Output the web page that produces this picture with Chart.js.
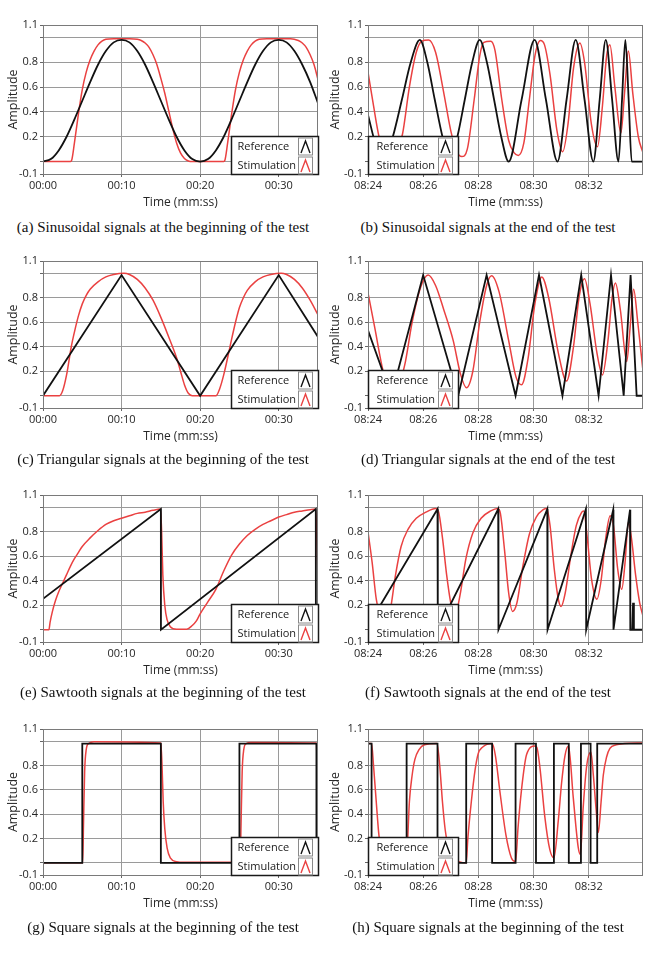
<!DOCTYPE html>
<html>
<head>
<meta charset="utf-8">
<script src="https://cdn.jsdelivr.net/npm/chart.js@4.4.0/dist/chart.umd.min.js"></script>
<style>
body { margin: 0; background: #fff; width: 647px; height: 953px; position: relative; overflow: hidden; }
.panel { position: absolute; }
.cap { position: absolute; font-family: "Liberation Serif", "Times New Roman", serif; font-size: 15px; color: #111;
       white-space: nowrap; transform: translate(-50%, -50%); }
</style>
</head>
<body>
<script>
'use strict';

// ejes
const startTicks = [0, 10, 20, 30];
const startTickLabels = ['00:00', '00:10', '00:20', '00:30'];
const endTicks = [0, 2, 4, 6, 8];          // segundos desde 08:24
const endTickLabels = ['08:24', '08:26', '08:28', '08:30', '08:32'];
const yTicks = [-0.1, 0, 0.2, 0.4, 0.6, 0.8, 1.0, 1.1];
const yTickLabels = ['-0.1', '', '0.2', '0.4', '0.6', '0.8', '', '1.1'];

// (a) senoidal inicio  [t, amplitud]
const sinStartRef = [[0,0],[1,0.02],[2,0.09],[3,0.2],[4,0.34],[5,0.49],[6,0.64],[7,0.78],[8,0.89],[9,0.96],[10,0.98],
  [11,0.96],[12,0.89],[13,0.78],[14,0.64],[15,0.49],[16,0.34],[17,0.2],[18,0.09],[19,0.02],[20,0],
  [21,0.02],[22,0.09],[23,0.2],[24,0.34],[25,0.49],[26,0.64],[27,0.78],[28,0.89],[29,0.96],[30,0.98],
  [31,0.96],[32,0.89],[33,0.78],[34,0.64],[35,0.47]];
const sinStartStim = [[0,0],[3.5,0],[3.65,0.01],[4,0.15],[4.5,0.38],[5,0.58],[5.5,0.72],[6,0.82],[6.5,0.89],[7,0.94],
  [7.5,0.97],[8,0.985],[9,0.99],[11,0.99],[12,0.985],[12.5,0.975],[13,0.955],[13.5,0.92],[14,0.86],[14.5,0.78],
  [15,0.67],[15.5,0.55],[16,0.41],[16.5,0.27],[17,0.15],[17.5,0.07],[18,0.025],[18.5,0.005],[19,0],[23,0],
  [23.15,0.01],[23.5,0.15],[24,0.38],[24.5,0.58],[25,0.72],[25.5,0.82],[26,0.89],[26.5,0.94],[27,0.97],
  [27.5,0.985],[28.5,0.99],[31.5,0.99],[32.5,0.975],[33,0.955],[33.5,0.92],[34,0.86],[34.5,0.78],[35,0.66]];

// (b) senoidal final
const sinEndRef = [[0,0.375],[0.3,0.12],[0.58,0],[0.9,0.2],[1.23,0.5],[1.55,0.8],[1.88,0.98],[2.15,0.8],[2.42,0.5],
  [2.7,0.2],[2.97,0],[3.24,0.2],[3.51,0.5],[3.78,0.8],[4.05,0.98],[4.31,0.8],[4.57,0.5],[4.83,0.2],[5.1,0],
  [5.57,0.5],[6.04,0.98],[6.45,0.5],[6.87,0],[7.2,0.5],[7.53,0.98],[7.85,0.5],[8.17,0],[8.4,0.5],[8.62,0.98],
  [8.85,0.5],[9.08,0],[9.21,0.5],[9.33,0.98],[9.45,0.5],[9.56,0],[9.97,0]];
const sinEndStim = [[0,0.72],[0.2,0.45],[0.4,0.2],[0.6,0.06],[0.8,0.02],[1,0.06],[1.25,0.22],[1.5,0.6],[1.75,0.88],
  [1.95,0.97],[2.2,0.98],[2.45,0.88],[2.75,0.55],[3,0.25],[3.22,0.08],[3.4,0.04],[3.6,0.1],[3.85,0.5],[4.05,0.85],
  [4.2,0.96],[4.45,0.97],[4.6,0.9],[4.85,0.5],[5.1,0.17],[5.3,0.07],[5.45,0.05],[5.65,0.15],[5.85,0.5],[6.05,0.85],
  [6.25,0.975],[6.4,0.94],[6.6,0.7],[6.85,0.25],[7.06,0.08],[7.25,0.3],[7.45,0.75],[7.68,0.955],[7.85,0.8],
  [8.1,0.3],[8.32,0.12],[8.5,0.45],[8.65,0.85],[8.77,0.94],[8.95,0.6],[9.17,0.23],[9.3,0.55],[9.44,0.89],
  [9.6,0.55],[9.8,0.2],[9.97,0.07]];

// (c) triangular inicio
const triStartRef = [[0,0],[10,0.985],[20,0],[30,0.985],[35,0.48]];
const triStartStim = [[0,0],[2.1,0],[2.5,0.04],[3,0.17],[3.6,0.4],[4,0.52],[4.5,0.65],[5,0.75],[5.5,0.82],[6,0.87],
  [7,0.93],[8,0.97],[9,0.99],[10.3,1],[11,0.99],[12,0.95],[13,0.88],[14,0.78],[15,0.64],[16,0.48],[17,0.31],
  [17.5,0.2],[18,0.09],[18.5,0.02],[19,0],[22,0],[22.5,0.06],[23,0.17],[23.7,0.37],[24,0.46],[24.5,0.6],[25,0.72],
  [25.5,0.8],[26,0.86],[27,0.93],[28,0.97],[29,0.99],[30.3,1],[31,0.99],[32,0.95],[33,0.88],[34,0.78],[35,0.66]];

// (d) triangular final
const triEndRef = [[0,0.535],[0.85,0],[2,0.985],[3.27,0],[4.3,0.985],[5.35,0],[6.2,0.985],[7.05,0],[7.73,0.985],
  [8.36,0],[8.81,0.985],[9.27,0],[9.52,0.985],[9.74,0],[9.97,0]];
const triEndStim = [[0,0.84],[0.25,0.55],[0.54,0.21],[0.8,0.05],[1,0.04],[1.33,0.25],[1.6,0.6],[1.9,0.88],[2.18,0.985],
  [2.45,0.9],[2.75,0.7],[3.09,0.45],[3.35,0.18],[3.57,0.065],[3.8,0.2],[4.05,0.6],[4.3,0.9],[4.48,0.98],[4.75,0.85],
  [5.1,0.45],[5.37,0.15],[5.57,0.09],[5.8,0.3],[6.05,0.75],[6.3,0.97],[6.55,0.8],[6.9,0.35],[7.2,0.12],[7.45,0.4],
  [7.65,0.8],[7.85,0.955],[8.05,0.75],[8.3,0.35],[8.5,0.17],[8.7,0.45],[8.85,0.8],[8.97,0.92],[9.15,0.7],[9.38,0.28],
  [9.5,0.55],[9.63,0.87],[9.78,0.6],[9.97,0.2]];

// (e) diente de sierra inicio
const sawStartRef = [[0,0.253],[15,0.985],[15.01,0],[34.72,0.985],[34.73,0],[35,0]];
const sawStartStim = [[0,0],[0.75,0],[0.9,0.06],[1.2,0.15],[1.6,0.24],[2,0.31],[2.5,0.38],[3,0.45],[3.5,0.52],[4,0.58],
  [4.5,0.63],[5,0.68],[6,0.75],[7,0.81],[8,0.86],[9,0.89],[10,0.91],[11,0.93],[12,0.95],[13,0.96],[14,0.975],
  [14.95,0.985],[15.1,0.8],[15.25,0.45],[15.5,0.2],[15.8,0.08],[16.2,0.025],[17,0.005],[18.3,0.005],[19,0.035],
  [19.5,0.07],[20,0.13],[21,0.23],[22,0.33],[23,0.48],[24,0.61],[25,0.7],[26,0.77],[27,0.82],[28,0.86],[29,0.89],
  [30,0.92],[31,0.94],[32,0.96],[33,0.97],[34,0.98],[34.7,0.985],[34.85,0.75],[35,0.4]];

// (f) diente de sierra final
const sawEndRef = [[0,0.03],[2.52,0.985],[2.53,0],[4.72,0.985],[4.73,0],[6.5,0.985],[6.51,0],[7.9,0.985],[7.91,0],
  [8.89,0.98],[8.9,0],[9.5,0.98],[9.51,0],[9.58,0],[9.61,0.22],[9.64,0],[9.97,0]];
const sawEndStim = [[0,0.8],[0.15,0.55],[0.3,0.25],[0.5,0.08],[0.65,0.06],[0.8,0.15],[1,0.45],[1.2,0.68],[1.45,0.82],
  [1.75,0.91],[2.1,0.96],[2.45,0.99],[2.55,0.97],[2.7,0.75],[2.85,0.45],[3,0.22],[3.1,0.14],[3.2,0.15],[3.35,0.3],
  [3.55,0.58],[3.8,0.79],[4.1,0.91],[4.45,0.97],[4.7,0.99],[4.8,0.95],[4.95,0.65],[5.1,0.3],[5.24,0.15],[5.4,0.22],
  [5.6,0.5],[5.85,0.78],[6.1,0.92],[6.35,0.98],[6.48,0.99],[6.6,0.85],[6.75,0.5],[6.9,0.25],[7,0.19],[7.15,0.3],
  [7.35,0.6],[7.55,0.85],[7.75,0.96],[7.82,0.97],[7.95,0.75],[8.1,0.42],[8.3,0.25],[8.45,0.4],[8.62,0.75],
  [8.78,0.93],[8.9,0.85],[9.05,0.5],[9.2,0.33],[9.32,0.55],[9.44,0.88],[9.55,0.75],[9.7,0.45],[9.85,0.22],[9.97,0.11]];

// (g) cuadrada inicio
const sqStartRef = [[0,0],[5,0],[5,0.98],[15,0.98],[15,0],[25,0],[25,0.98],[34.8,0.98],[34.8,0],[35,0]];
const sqStartStim = [[0,0],[5.05,0],[5.15,0.3],[5.3,0.75],[5.5,0.93],[5.8,0.98],[6.5,0.995],[15,0.985],[15.15,0.8],
  [15.3,0.5],[15.5,0.28],[15.8,0.12],[16.2,0.04],[17,0.01],[18,0.005],[25.1,0.005],[25.2,0.3],[25.35,0.75],
  [25.55,0.93],[25.85,0.98],[26.5,0.99],[34.8,0.985],[34.9,0.7],[35,0.43]];

// (h) cuadrada final
const sqEndRef = [[0,0.98],[0.13,0.98],[0.13,0],[1.4,0],[1.4,0.98],[2.52,0.98],[2.52,0],[3.56,0],[3.56,0.98],
  [4.5,0.98],[4.5,0],[5.35,0],[5.35,0.98],[6.09,0.98],[6.09,0],[6.74,0],[6.74,0.98],[7.28,0.98],[7.28,0],
  [7.72,0],[7.72,0.98],[8.07,0.98],[8.07,0],[8.31,0],[8.31,0.98],[9.97,0.98]];
const sqEndStim = [[0,0.98],[0.13,0.98],[0.2,0.8],[0.3,0.5],[0.4,0.22],[0.55,0.08],[0.8,0.02],[1.4,0],[1.45,0.25],
  [1.5,0.5],[1.6,0.72],[1.7,0.85],[1.85,0.93],[2.05,0.97],[2.5,0.98],[2.6,0.8],[2.7,0.5],[2.8,0.27],[2.95,0.1],
  [3.15,0.03],[3.56,0],[3.62,0.2],[3.74,0.49],[3.88,0.76],[4,0.9],[4.15,0.95],[4.5,0.98],[4.62,0.88],[4.78,0.59],
  [5,0.23],[5.2,0.04],[5.35,0.01],[5.44,0.29],[5.56,0.59],[5.75,0.89],[6.05,0.96],[6.12,0.95],[6.23,0.79],
  [6.41,0.38],[6.59,0.11],[6.74,0.04],[6.9,0.35],[7.02,0.66],[7.14,0.88],[7.27,0.96],[7.44,0.54],[7.62,0.13],
  [7.7,0.07],[7.8,0.45],[7.93,0.8],[8.08,0.91],[8.17,0.72],[8.27,0.44],[8.35,0.25],[8.45,0.5],[8.53,0.72],
  [8.65,0.87],[8.77,0.94],[9,0.97],[9.3,0.98],[9.97,0.985]];

const refColor = '#111';
const stimColor = '#ea4141';
const gridColor = '#9a9a9a';

// layout de la figura
const AXIS_W = 45, PAD_T = 10, PAD_R = 4, XAXIS_H = 44;
const rows = [
  {top: 25, bottom: 174, capY: 226.5},
  {top: 261, bottom: 408, capY: 459},
  {top: 495, bottom: 642, capY: 692.3},
  {top: 729, bottom: 875, capY: 926.7}
];
const cols = [
  {left: 43, right: 318, capX: 163, legendSide: 'right', legendW: 87, titlePad: 7.5},
  {left: 368, right: 643, capX: 488, legendSide: 'left', legendW: 90, titlePad: 5}
];

const panels = [
  {row: 0, col: 0, end: false, ref: sinStartRef, stim: sinStartStim, smoothRef: true, caption: '(a) Sinusoidal signals at the beginning of the test'},
  {row: 0, col: 1, end: true, ref: sinEndRef, stim: sinEndStim, smoothRef: true, caption: '(b) Sinusoidal signals at the end of the test'},
  {row: 1, col: 0, end: false, ref: triStartRef, stim: triStartStim, smoothRef: false, caption: '(c) Triangular signals at the beginning of the test'},
  {row: 1, col: 1, end: true, ref: triEndRef, stim: triEndStim, smoothRef: false, caption: '(d) Triangular signals at the end of the test'},
  {row: 2, col: 0, end: false, ref: sawStartRef, stim: sawStartStim, smoothRef: false, caption: '(e) Sawtooth signals at the beginning of the test'},
  {row: 2, col: 1, end: true, ref: sawEndRef, stim: sawEndStim, smoothRef: false, caption: '(f) Sawtooth signals at the end of the test'},
  {row: 3, col: 0, end: false, ref: sqStartRef, stim: sqStartStim, smoothRef: false, caption: '(g) Square signals at the beginning of the test'},
  {row: 3, col: 1, end: true, ref: sqEndRef, stim: sqEndStim, smoothRef: false, caption: '(h) Square signals at the beginning of the test'}
];

Chart.defaults.font.family = '"Open Sans", "DejaVu Sans", sans-serif';
Chart.defaults.font.size = 11;
Chart.defaults.color = '#262626';

// marco gris alrededor del area
const framePlugin = {
  id: 'frame',
  afterDraw(chart) {
    const {ctx, chartArea: a} = chart;
    ctx.save();
    ctx.strokeStyle = '#7a7a7a';
    ctx.lineWidth = 1;
    ctx.strokeRect(Math.round(a.left) + 0.5, Math.round(a.top) + 0.5,
      Math.round(a.right - a.left) - 1, Math.round(a.bottom - a.top));
    ctx.restore();
  }
};

// leyenda tipo LabVIEW dentro del grafico
const boxLegend = {
  id: 'boxLegend',
  afterDraw(chart, args, opts) {
    const {ctx, chartArea: a} = chart;
    const w = opts.width, h = 38;
    const x = Math.round(opts.side === 'right' ? a.right - w : a.left) + 0.5;
    const y = Math.round(a.bottom - h) + 0.5;
    ctx.save();
    ctx.fillStyle = '#fff';
    ctx.fillRect(x, y, w, h);
    ctx.strokeStyle = '#1a1a1a';
    ctx.lineWidth = 1.5;
    ctx.strokeRect(x, y, w, h);
    ctx.font = '11px "Open Sans", sans-serif';
    ctx.textBaseline = 'middle';
    ctx.fillStyle = '#222';
    chart.data.datasets.forEach((ds, i) => {
      const rowTop = y + 1 + i * 19;
      ctx.fillText(ds.label, x + opts.textX, rowTop + 9.5);
      const ix = x + w - 20;
      ctx.strokeStyle = '#8a8a8a';
      ctx.lineWidth = 1;
      ctx.strokeRect(ix, rowTop + 0.5, 14, 17);
      ctx.strokeStyle = ds.borderColor;
      ctx.lineWidth = 1.4;
      ctx.beginPath();
      ctx.moveTo(ix + 2.5, rowTop + 15.5);
      ctx.lineTo(ix + 7, rowTop + 3.5);
      ctx.lineTo(ix + 11.5, rowTop + 15.5);
      ctx.stroke();
    });
    ctx.restore();
  }
};

function toXY(pares) {
  return pares.map(([x, y]) => ({x: x, y: y}));
}

function crearPanel(p) {
  const row = rows[p.row], col = cols[p.col];
  const plotW = col.right - col.left, plotH = row.bottom - row.top;
  const wrap = document.createElement('div');
  wrap.className = 'panel';
  const cv = document.createElement('canvas');
  cv.width = AXIS_W + plotW + PAD_R;
  cv.height = PAD_T + plotH + XAXIS_H;
  wrap.appendChild(cv);
  document.body.appendChild(wrap);

  const xt = p.end ? endTicks : startTicks;
  const xl = p.end ? endTickLabels : startTickLabels;

  const chart = new Chart(cv, {
    type: 'line',
    data: {
      datasets: [{
        label: 'Reference',
        data: toXY(p.ref),
        borderColor: refColor,
        borderWidth: 1.8,
        pointRadius: 0,
        tension: 0,
        cubicInterpolationMode: p.smoothRef ? 'monotone' : 'default'
      }, {
        label: 'Stimulation',
        data: toXY(p.stim),
        borderColor: stimColor,
        borderWidth: 1.5,
        pointRadius: 0,
        cubicInterpolationMode: 'monotone'
      }]
    },
    options: {
      responsive: false,
      maintainAspectRatio: false,
      animation: false,
      events: [],
      layout: {padding: {top: PAD_T, right: PAD_R, left: 0, bottom: 0}},
      plugins: {
        legend: {display: false},
        tooltip: {enabled: false},
        boxLegend: {side: col.legendSide, width: col.legendW, textX: col.legendSide === 'right' ? 6 : 8}
      },
      scales: {
        x: {
          type: 'linear',
          min: 0,
          max: p.end ? 9.97 : 35,
          afterBuildTicks: s => { s.ticks = xt.map(v => ({value: v})); },
          afterFit: s => { s.height = XAXIS_H; },
          ticks: {autoSkip: false, maxRotation: 0, padding: 2, callback: (v, i) => xl[i]},
          grid: {color: gridColor, tickLength: 3, tickColor: '#666'},
          border: {display: false},
          title: {display: true, text: 'Time (mm:ss)', font: {size: 12}, padding: {top: 0, bottom: 7.8}}
        },
        y: {
          min: -0.1,
          max: 1.1,
          afterBuildTicks: s => { s.ticks = yTicks.map(v => ({value: v})); },
          afterFit: s => { s.width = AXIS_W; },
          ticks: {autoSkip: false, padding: 2, callback: (v, i) => yTickLabels[i]},
          grid: {color: gridColor, tickLength: 3, tickColor: '#666'},
          border: {display: false},
          title: {display: true, text: 'Amplitude', font: {size: 12.5}, padding: {top: col.titlePad, bottom: 0}}
        }
      }
    },
    plugins: [framePlugin, boxLegend]
  });

  const ca = chart.chartArea;
  wrap.style.left = (col.left - Math.round(ca.left)) + 'px';
  wrap.style.top = (row.top - Math.round(ca.top)) + 'px';

  const cap = document.createElement('div');
  cap.className = 'cap';
  cap.textContent = p.caption;
  cap.style.left = col.capX + 'px';
  cap.style.top = row.capY + 'px';
  document.body.appendChild(cap);
}

panels.forEach(crearPanel);
</script>
</body>
</html>
